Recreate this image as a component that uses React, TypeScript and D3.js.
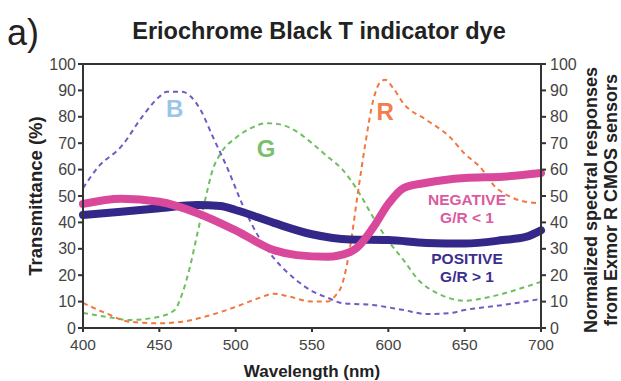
import React from 'react'
import * as d3 from 'd3';

// wavelength grid (nm) used by the measured transmittance curves
const negWl = [400, 425, 450, 475, 500, 525, 540, 560, 575, 580, 590, 600, 610, 625, 650, 675, 700];
const negVal = [47, 49, 47.8, 43.5, 37, 29.5, 27.6, 27, 28.8, 30.7, 38, 47, 53, 55, 56.8, 57.3, 58.7];

const posWl = [400, 425, 450, 475, 490, 500, 525, 550, 575, 600, 625, 650, 675, 690, 700];
const posVal = [42.8, 44, 45.4, 46.6, 46.2, 44.7, 39.8, 35.5, 33.5, 33.3, 32.2, 32, 33.3, 34.5, 37];

// sensor responses
const bWl = [400, 410, 425, 440, 450, 455, 465, 470, 477, 485, 495, 505, 515, 525, 540, 550, 560, 570, 590, 610, 625, 640, 650, 675, 700];
const bVal = [53, 61, 68.7, 81, 87.6, 89.5, 89.5, 88, 82.6, 72.5, 60, 46, 34.6, 26.5, 18, 14, 11.5, 9.4, 8.7, 6.8, 5.3, 5.6, 6.8, 8.7, 11];

const gWl = [400, 420, 430, 450, 460, 465, 470, 475, 480, 485, 490, 500, 510, 520, 530, 540, 550, 560, 570, 580, 590, 600, 610, 620, 630, 640, 650, 660, 675, 690, 700];
const gVal = [5.7, 3.8, 3, 4.3, 6.8, 13, 23, 36, 48.5, 60, 66, 72, 75.7, 77.6, 77, 74.4, 70, 65, 60, 52, 42, 33, 25.7, 18, 13.8, 11.3, 10.3, 11, 13, 15.6, 17.5];

const rWl = [400, 415, 430, 450, 465, 480, 500, 515, 525, 535, 550, 560, 565, 570, 575, 580, 585, 590, 595, 598, 603, 610, 625, 640, 650, 660, 670, 680, 690, 700];
const rVal = [9.5, 5.6, 2.4, 1.8, 2.4, 4.3, 8, 11.3, 13, 11.9, 10, 10, 12, 17, 30.8, 51, 70, 86, 93.3, 94, 91, 85, 78.8, 72.5, 66, 61, 53.5, 49.7, 47.8, 47.3];

const xTicks = [400, 450, 500, 550, 600, 650, 700];
const yTicks = [0, 10, 20, 30, 40, 50, 60, 70, 80, 90, 100];

// letter labels placed in data coords
const letterText = ['B', 'G', 'R'];
const letterWl = [460, 520, 598];
const letterVal = [83, 68, 82];

function App() {
  const width = 621;
  const height = 381;
  const margin = { top: 64, right: 80, bottom: 53, left: 83 };
  const x0 = margin.left;
  const x1 = width - margin.right;
  const y0 = height - margin.bottom;
  const y1 = margin.top;

  const xScale = d3.scaleLinear().domain([400, 700]).range([x0, x1]);
  const yScale = d3.scaleLinear().domain([0, 100]).range([y0, y1]);

  const line = d3.line<[number, number]>()
    .x(d => xScale(d[0]))
    .y(d => yScale(d[1]))
    .curve(d3.curveMonotoneX);

  const zip = (a: number[], b: number[]) => a.map((v, i) => [v, b[i]] as [number, number]);

  const dashed = [
    { wl: gWl, val: gVal, color: '#6dbf5f' },
    { wl: bWl, val: bVal, color: '#7259c4' },
    { wl: rWl, val: rVal, color: '#f2773f' },
  ];
  const letterColors = ['#98c6ea', '#78c06c', '#f27e4e'];

  const font = 'Liberation Sans, Arial, sans-serif';
  const axisColor = '#333';
  const labelColor = '#444';

  return (
    <svg width={width} height={height} style={{ position: 'absolute', left: 0, top: 0, background: 'white' }} fontFamily={font}>
      <text x={7} y={45} fontSize={36} fill="#222">a)</text>
      <text x={319} y={39} fontSize={23.5} fontWeight="bold" textAnchor="middle" fill="#222">Eriochrome Black T indicator dye</text>

      {dashed.map((s, i) => (
        <path key={'d' + i} d={line(zip(s.wl, s.val)) || ''} fill="none" stroke={s.color}
          strokeWidth={2} strokeDasharray="5,4" />
      ))}

      <path d={line(zip(posWl, posVal)) || ''} fill="none" stroke="#33288a" strokeWidth={8} strokeLinecap="round" />
      <path d={line(zip(negWl, negVal)) || ''} fill="none" stroke="#d9489a" strokeWidth={8} strokeLinecap="round" />

      {letterText.map((t, i) => (
        <text key={t} x={xScale(letterWl[i])} y={yScale(letterVal[i])} fontSize={24} fontWeight="bold"
          textAnchor="middle" dominantBaseline="central" fill={letterColors[i]}>{t}</text>
      ))}

      <g fontSize={15.5} textAnchor="middle" fontWeight="bold">
        <text x={467} y={205} fill="#dc5aa0">NEGATIVE</text>
        <text x={467} y={223} fill="#dc5aa0">G/R &lt; 1</text>
        <text x={467} y={264} fill="#3b2e8e">POSITIVE</text>
        <text x={467} y={282} fill="#3b2e8e">G/R &gt; 1</text>
      </g>

      {/* frame */}
      <rect x={x0} y={y1} width={x1 - x0} height={y0 - y1} fill="none" stroke={axisColor} strokeWidth={2} />

      {/* left axis */}
      {yTicks.map(t => (
        <g key={'l' + t}>
          <line x1={x0 - 5} x2={x0} y1={yScale(t)} y2={yScale(t)} stroke={axisColor} strokeWidth={2} />
          <text x={x0 - 7} y={yScale(t)} dy="0.35em" textAnchor="end" fontSize={16} fill={labelColor}>{t}</text>
        </g>
      ))}
      {/* right axis */}
      {yTicks.map(t => (
        <g key={'r' + t}>
          <line x1={x1} x2={x1 + 5} y1={yScale(t)} y2={yScale(t)} stroke={axisColor} strokeWidth={2} />
          <text x={x1 + 9} y={yScale(t)} dy="0.35em" textAnchor="start" fontSize={16} fill={labelColor}>{t}</text>
        </g>
      ))}
      {/* bottom axis */}
      {xTicks.map(t => (
        <g key={'b' + t}>
          <line x1={xScale(t)} x2={xScale(t)} y1={y0} y2={y0 + 4} stroke={axisColor} strokeWidth={2} />
          <text x={xScale(t)} y={y0 + 22} textAnchor="middle" fontSize={15.5} fill={labelColor}>{t}</text>
        </g>
      ))}

      <text x={312} y={377} textAnchor="middle" fontSize={17} fontWeight="bold" fill="#222">Wavelength (nm)</text>
      <text transform={`translate(42, ${(y0 + y1) / 2}) rotate(-90)`} textAnchor="middle" fontSize={18.5}
        fontWeight="bold" fill="#222">Transmittance (%)</text>
      <text transform={`translate(597, ${(y0 + y1) / 2 + 4}) rotate(-90)`} textAnchor="middle" fontSize={18}
        fontWeight="bold" fill="#222">Normalized spectral responses</text>
      <text transform={`translate(617, ${(y0 + y1) / 2 + 4}) rotate(-90)`} textAnchor="middle" fontSize={18}
        fontWeight="bold" fill="#222">from Exmor R CMOS sensors</text>
    </svg>
  );
}

export default App;
